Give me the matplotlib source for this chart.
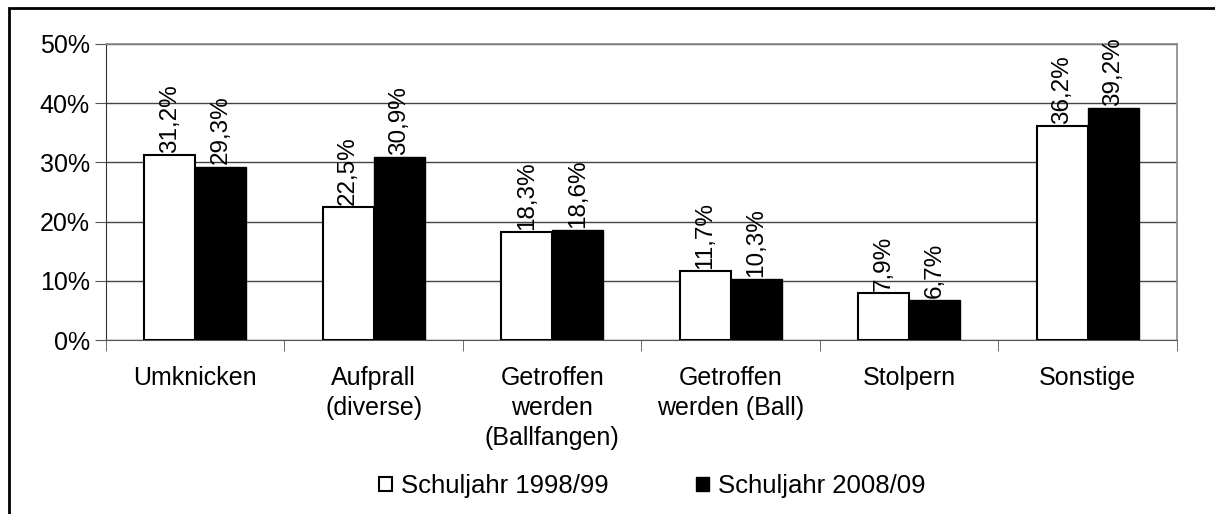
import numpy as np
import matplotlib.pyplot as plt
from matplotlib.patches import Rectangle
from matplotlib.ticker import FixedLocator, PercentFormatter

plt.rcParams.update({
    'font.family': ['Liberation Sans', 'DejaVu Sans'],
    'font.size': 18,
})

categories = ['Umknicken', 'Aufprall\n(diverse)', 'Getroffen\nwerden\n(Ballfangen)',
              'Getroffen\nwerden (Ball)', 'Stolpern', 'Sonstige']
values_1998 = [31.2, 22.5, 18.3, 11.7, 7.9, 36.2]
values_2008 = [29.3, 30.9, 18.6, 10.3, 6.7, 39.2]
series_labels = ['Schuljahr 1998/99', 'Schuljahr 2008/09']
y_ticks = [0, 10, 20, 30, 40, 50]

fig = plt.figure(figsize=(12.15, 5.14), dpi=100)
ax = fig.add_axes([0.0872, 0.3385, 0.8815, 0.5759])

x = np.arange(len(categories))
w = 0.286
b1 = ax.bar(x - w / 2, values_1998, w, color='white', edgecolor='black',
            linewidth=1.5, label=series_labels[0], zorder=3)
b2 = ax.bar(x + w / 2, values_2008, w, color='black', edgecolor='black',
            linewidth=1.0, label=series_labels[1], zorder=3)

# rotated value labels with German decimal comma
for bars, vals in ((b1, values_1998), (b2, values_2008)):
    for rect, v in zip(bars, vals):
        ax.annotate(f'{v:.1f}%'.replace('.', ','),
                    (rect.get_x() + rect.get_width() / 2, rect.get_height()),
                    xytext=(0, 1.5), textcoords='offset points',
                    rotation=90, ha='center', va='bottom', fontsize=17.5)

ax.set_xlim(-0.5, len(categories) - 0.5)
ax.set_ylim(0, 50)
ax.set_yticks(y_ticks)
ax.yaxis.set_major_formatter(PercentFormatter(decimals=0))
ax.set_xticks(x)
ax.set_xticklabels(categories, linespacing=1.3)
ax.xaxis.set_minor_locator(FixedLocator(np.arange(len(categories) + 1) - 0.5))
ax.tick_params(axis='x', which='major', length=0, pad=19, labelsize=18)
ax.tick_params(axis='x', which='minor', length=8, color='#555555')
ax.tick_params(axis='y', length=8, color='#555555', pad=3.5, labelsize=18)

ax.yaxis.grid(True, color='#444444', linewidth=1.0, zorder=0)
ax.set_axisbelow(True)
for s in ('top', 'right'):
    ax.spines[s].set_color('#888888')
    ax.spines[s].set_linewidth(1.2)
ax.spines['left'].set_color('#333333')
ax.spines['bottom'].set_color('#555555')

fig.legend(handles=[b1, b2], loc='center', bbox_to_anchor=(0.537, 0.054),
           ncol=2, frameon=False, fontsize=18.5, handlelength=0.5,
           handleheight=0.5, handletextpad=0.35, columnspacing=3.4)

# outer frame like the original office chart border (right/bottom run off the image)
fig.patches.append(Rectangle((9 / 1215, -0.02), 1.0, 1.02 - 8 / 514,
                             transform=fig.transFigure, fill=False,
                             edgecolor='black', linewidth=2))

fig.savefig('out.png', dpi=100, facecolor='white')
